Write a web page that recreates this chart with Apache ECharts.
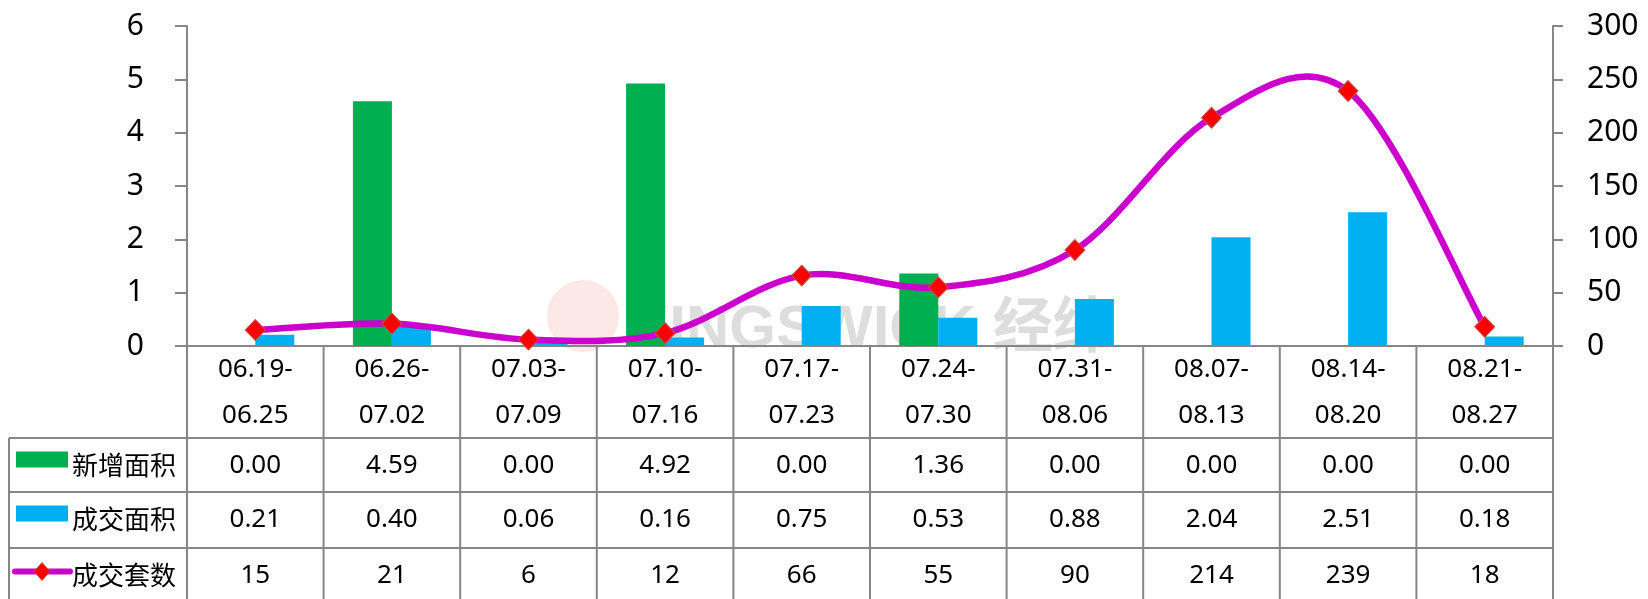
<!DOCTYPE html>
<html>
<head>
<meta charset="utf-8">
<script src="https://cdn.jsdelivr.net/npm/echarts@6/dist/echarts.min.js"></script>
<style>
html, body { margin: 0; padding: 0; background: #fff; }
#weeklyChart { width: 1648px; height: 599px; }
</style>
</head>
<body>
<div id="weeklyChart"></div>
<script>
// 周度数据
const weeks = ['06.19-\n06.25', '06.26-\n07.02', '07.03-\n07.09', '07.10-\n07.16', '07.17-\n07.23',
	'07.24-\n07.30', '07.31-\n08.06', '08.07-\n08.13', '08.14-\n08.20', '08.21-\n08.27']
const newArea = [0.00, 4.59, 0.00, 4.92, 0.00, 1.36, 0.00, 0.00, 0.00, 0.00]
const dealArea = [0.21, 0.40, 0.06, 0.16, 0.75, 0.53, 0.88, 2.04, 2.51, 0.18]
const dealCount = [15, 21, 6, 12, 66, 55, 90, 214, 239, 18]

const FONT = "'Noto Sans', 'Noto Sans CJK SC', sans-serif"
const GRAY = '#868686'
const GREEN = '#00B050'
const BLUE = '#00B0F0'
const PURPLE = '#CC00CC'

const grid = { left: 187, right: 95, top: 26, bottom: 253 }

const chart = echarts.init(document.getElementById('weeklyChart'))

// Excel 风格平滑线 (Catmull-Rom 转贝塞尔)，坐标由坐标轴换算
const renderSmoothLine = (params, api) => {
	if (params.dataIndex !== 0) return null
	const pts = dealCount.map((v, i) => api.coord([i, v]))
	let d = `M${pts[0][0]},${pts[0][1]}`
	for (let i = 0; i < pts.length - 1; i++) {
		const p0 = pts[i - 1] || pts[i]
		const p1 = pts[i]
		const p2 = pts[i + 1]
		const p3 = pts[i + 2] || pts[i + 1]
		const c1 = [p1[0] + (p2[0] - p0[0]) / 6, p1[1] + (p2[1] - p0[1]) / 6]
		const c2 = [p2[0] - (p3[0] - p1[0]) / 6, p2[1] - (p3[1] - p1[1]) / 6]
		d += ` C${c1[0]},${c1[1]} ${c2[0]},${c2[1]} ${p2[0]},${p2[1]}`
	}
	return {
		type: 'path',
		shape: { pathData: d },
		style: { stroke: PURPLE, lineWidth: 6.5, fill: null, lineCap: 'round', lineJoin: 'round' },
	}
}

chart.setOption({
	animation: false,
	grid: grid,
	xAxis: {
		type: 'category',
		data: weeks,
		axisLine: { lineStyle: { color: GRAY, width: 2 } },
		axisTick: { show: false },
		axisLabel: {
			interval: 0,
			margin: 1,
			color: '#000',
			fontSize: 26,
			lineHeight: 46,
			fontFamily: FONT,
		},
	},
	yAxis: [
		{
			type: 'value',
			min: 0,
			max: 6,
			interval: 1,
			splitLine: { show: false },
			axisLine: { show: true, lineStyle: { color: GRAY, width: 2 } },
			axisTick: { show: true, length: 12, lineStyle: { color: GRAY, width: 2 } },
			axisLabel: { color: '#000', fontSize: 30, margin: 43, fontFamily: FONT },
		},
		{
			type: 'value',
			min: 0,
			max: 300,
			interval: 50,
			splitLine: { show: false },
			axisLine: { show: true, lineStyle: { color: GRAY, width: 2 } },
			axisTick: { show: true, length: 10, lineStyle: { color: GRAY, width: 2 } },
			axisLabel: { color: '#000', fontSize: 30, margin: 34, fontFamily: FONT },
		},
	],
	series: [
		{
			name: '新增面积',
			type: 'bar',
			data: newArea,
			barWidth: 39,
			barGap: '0%',
			itemStyle: { color: GREEN },
		},
		{
			name: '成交面积',
			type: 'bar',
			data: dealArea,
			barWidth: 39,
			barGap: '0%',
			itemStyle: { color: BLUE },
		},
		{
			name: '成交套数',
			type: 'custom',
			yAxisIndex: 1,
			z: 4,
			data: dealCount.map((v, i) => [i, v]),
			renderItem: renderSmoothLine,
		},
		{
			name: '成交套数',
			type: 'scatter',
			yAxisIndex: 1,
			data: dealCount,
			z: 5,
			symbol: 'diamond',
			symbolSize: [20, 21],
			itemStyle: { color: '#FF0000', borderColor: '#C0504D', borderWidth: 1, opacity: 1 },
		},
	],
})

// 数据表 (Excel 风格) —— 用坐标轴换算位置
const buildTable = () => {
	const centers = weeks.map((w, i) => chart.convertToPixel({ xAxisIndex: 0 }, i))
	const step = centers[1] - centers[0]
	const axisY = 599 - grid.bottom
	const rowLines = [axisY + 92, axisY + 146, axisY + 202]
	const rowH = 55
	const tableLeft = 9
	const tableRight = centers[centers.length - 1] + step / 2
	const bottomY = 605

	const els = []
	const line = (x1, y1, x2, y2) =>
		els.push({
			type: 'line',
			shape: { x1, y1, x2, y2 },
			style: { stroke: GRAY, lineWidth: 2 },
			silent: true,
		})
	const text = (t, x, y, align) =>
		els.push({
			type: 'text',
			x,
			y,
			style: {
				text: t,
				font: `26px ${FONT}`,
				fill: '#000',
				align: align || 'center',
				verticalAlign: 'middle',
			},
			silent: true,
		})

	// 横线
	rowLines.forEach((y) => line(tableLeft, y, tableRight, y))
	// 竖线
	line(tableLeft, rowLines[0], tableLeft, bottomY)
	centers.forEach((c) => line(c - step / 2, axisY, c - step / 2, bottomY))
	line(tableRight, axisY, tableRight, bottomY)

	const rows = [
		{ name: '新增面积', data: newArea.map((v) => v.toFixed(2)) },
		{ name: '成交面积', data: dealArea.map((v) => v.toFixed(2)) },
		{ name: '成交套数', data: dealCount.map((v) => String(v)) },
	]
	rows.forEach((row, r) => {
		const cy = rowLines[r] + rowH / 2
		row.data.forEach((v, i) => text(v, centers[i], cy))
		text(row.name, 72, cy + 2, 'left')
	})

	// 图例标记
	const cy0 = rowLines[0] + rowH / 2
	const cy1 = rowLines[1] + rowH / 2
	const cy2 = rowLines[2] + rowH / 2
	els.push({ type: 'rect', shape: { x: 16, y: cy0 - 14, width: 52, height: 16 }, style: { fill: GREEN }, silent: true })
	els.push({ type: 'rect', shape: { x: 16, y: cy1 - 14, width: 52, height: 16 }, style: { fill: BLUE }, silent: true })
	els.push({
		type: 'line',
		shape: { x1: 15, y1: cy2 - 4, x2: 70, y2: cy2 - 4 },
		style: { stroke: PURPLE, lineWidth: 6, lineCap: 'round' },
		silent: true,
	})
	els.push({
		type: 'polygon',
		shape: { points: [[42, cy2 - 13], [50, cy2 - 4], [42, cy2 + 5], [34, cy2 - 4]] },
		style: { fill: '#FF0000', stroke: '#C0504D', lineWidth: 1 },
		silent: true,
	})

	// 水印
	els.push({
		type: 'circle',
		shape: { cx: 583, cy: 316, r: 36 },
		style: { fill: 'rgba(240, 110, 110, 0.16)' },
		silent: true,
		z: -10,
	})
	els.push({
		type: 'text',
		x: 626,
		y: 330,
		style: {
			text: 'KINGSWICK 经纬',
			font: `bold 60px Arial, 'Noto Sans CJK SC', sans-serif`,
			fill: 'rgba(150, 150, 150, 0.32)',
			align: 'left',
			verticalAlign: 'middle',
		},
		silent: true,
		z: -10,
	})

	chart.setOption({ graphic: { elements: els } })
}

buildTable()
</script>
</body>
</html>
